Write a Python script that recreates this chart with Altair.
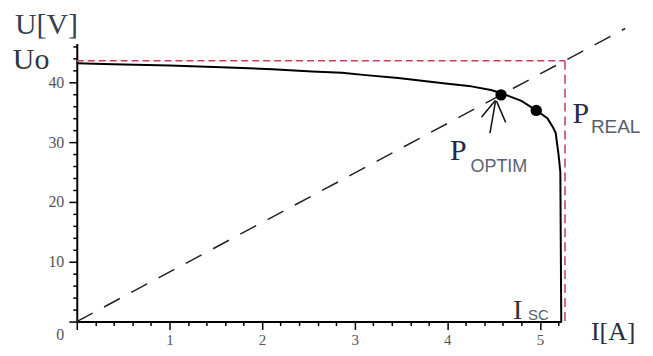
import altair as alt
import pandas as pd

# ---- data ----
curve_i = [0.0, 0.39, 1.0, 1.56, 2.11, 2.54, 2.86, 3.12, 3.47, 3.98, 4.23, 4.47, 4.58,
           4.80, 4.96, 5.08, 5.14, 5.17, 5.20, 5.22, 5.23]
curve_u = [43.2, 43.0, 42.8, 42.5, 42.2, 41.8, 41.6, 41.2, 40.7, 39.8, 39.4, 38.7, 38.2,
           36.9, 35.3, 34.0, 32.5, 31.5, 28.0, 25.0, 0.0]

point_names = ["P_OPTIM", "P_REAL"]
point_i = [4.58, 4.96]
point_u = [37.9, 35.3]

load_i = [0.0, 5.92]
load_u = [0.0, 49.0]

uo_value = 43.6
isc_value = 5.27

arrow_i1 = [4.46, 4.37, 4.63]
arrow_u1 = [31.5, 34.2, 33.3]
arrow_i2 = [4.52, 4.52, 4.53]
arrow_u2 = [36.8, 37.0, 36.9]

x_ticks = [0, 0.2, 0.4, 0.6, 0.8, 1, 1.2, 1.4, 1.6, 1.8, 2, 2.2, 2.4, 2.6, 2.8, 3,
           3.2, 3.4, 3.6, 3.8, 4, 4.2, 4.4, 4.6, 4.8, 5, 5.2]
y_ticks = [0, 2, 4, 6, 8, 10, 12, 14, 16, 18, 20, 22, 24, 26, 28, 30, 32, 34, 36, 38,
           40, 42, 44, 46]

# big serif labels
serif_text = ["U[V]", "Uo", "I[A]", "I", "P", "P"]
serif_i = [-0.667, -0.69, 5.55, 4.71, 4.03, 5.35]
serif_u = [48.0, 42.3, -3.1, 0.35, 27.0, 33.2]
serif_size = [30, 30, 26, 28, 30, 30]
serif_color = ["#33404d", "#2e3440", "#26303d", "#333333", "#1f2a44", "#2b2a4a"]

# subscripts
sub_text = ["SC", "OPTIM", "REAL"]
sub_i = [4.87, 4.25, 5.55]
sub_u = [0.2, 25.0, 31.5]
sub_size = [15, 18, 19]
sub_color = ["#555e6e", "#5a6478", "#555c70"]

zero_label = ["0"]
zero_i = [-0.18]
zero_u = [-2.2]

# ---- build ----
xs = alt.Scale(domain=[0, 5.23], nice=False, zero=False)
ys = alt.Scale(domain=[0, 46.5], nice=False, zero=False)

xaxis = alt.Axis(
    values=x_ticks,
    labelExpr="abs(datum.value - round(datum.value)) < 0.001 && datum.value > 0 ? format(datum.value, 'd') : ''",
    tickSize={"condition": {"test": "abs(datum.value - round(datum.value)) < 0.001", "value": 8}, "value": 4},
    tickWidth=1.5, tickColor="black", domainColor="black", domainWidth=2,
    labelFont="Liberation Serif", labelFontSize=15, labelColor="#555555",
    labelPadding=3, grid=False, title=None, labelOverlap=False, labelFlush=False,
)
yaxis = alt.Axis(
    values=y_ticks,
    labelExpr="datum.value % 10 === 0 && datum.value > 0 ? datum.value : ''",
    tickSize={"condition": {"test": "datum.value % 10 === 0", "value": 8}, "value": 4},
    tickWidth=1.5, tickColor="black", domainColor="black", domainWidth=2,
    labelFont="Liberation Serif", labelFontSize=16, labelColor="#555555",
    labelPadding=5, grid=False, title=None, labelOverlap=False, labelFlush=False,
)

X = alt.X("i:Q", scale=xs, axis=xaxis)
Y = alt.Y("u:Q", scale=ys, axis=yaxis)

curve_df = pd.DataFrame({"i": curve_i, "u": curve_u, "k": list(range(len(curve_i)))})
curve = alt.Chart(curve_df).mark_line(color="black", strokeWidth=2).encode(
    x=X, y=Y, order="k:Q",
)

load_df = pd.DataFrame({"i": load_i, "u": load_u})
load = alt.Chart(load_df).mark_line(color="#222222", strokeWidth=1.5, strokeDash=[18, 13]).encode(
    x=X, y=Y,
)

hred_df = pd.DataFrame({"i": [0.0], "i2": [isc_value], "u": [uo_value]})
hred = alt.Chart(hred_df).mark_rule(color="#d23a52", strokeWidth=1.5, strokeDash=[7, 4]).encode(
    x=X, x2="i2:Q", y=Y,
)

vred_df = pd.DataFrame({"i": [isc_value], "u": [uo_value], "u2": [-0.6]})
vred = alt.Chart(vred_df).mark_rule(color="#cf6b82", strokeWidth=2, strokeDash=[9, 5]).encode(
    x=X, y=Y, y2="u2:Q",
)

pts_df = pd.DataFrame({"name": point_names, "i": point_i, "u": point_u})
pts = alt.Chart(pts_df).mark_circle(color="black", opacity=1, size=130).encode(
    x=X, y=Y,
)

arrow_df = pd.DataFrame({"i": arrow_i1, "u": arrow_u1, "i2": arrow_i2, "u2": arrow_u2})
arrow = alt.Chart(arrow_df).mark_rule(color="#111111", strokeWidth=1.5).encode(
    x=X, x2="i2:Q", y=Y, y2="u2:Q",
)

serif_df = pd.DataFrame({"t": serif_text, "i": serif_i, "u": serif_u,
                         "s": serif_size, "c": serif_color})
serif = alt.Chart(serif_df).mark_text(font="Liberation Serif", align="left",
                                      baseline="alphabetic").encode(
    x=X, y=Y,
    text="t:N",
    size=alt.Size("s:Q", scale=None),
    color=alt.Color("c:N", scale=None),
)

sub_df = pd.DataFrame({"t": sub_text, "i": sub_i, "u": sub_u, "s": sub_size, "c": sub_color})
sub = alt.Chart(sub_df).mark_text(font="Liberation Sans", align="left",
                                  baseline="alphabetic").encode(
    x=X, y=Y,
    text="t:N",
    size=alt.Size("s:Q", scale=None),
    color=alt.Color("c:N", scale=None),
)

zero_df = pd.DataFrame({"t": zero_label, "i": zero_i, "u": zero_u})
zero = alt.Chart(zero_df).mark_text(font="Liberation Serif", fontSize=16, color="#555555",
                                    align="center", baseline="middle").encode(
    x=X, y=Y, text="t:N",
)

chart = alt.layer(curve, load, hred, vred, pts, arrow, serif, sub, zero).properties(
    width=486, height=279,
    autosize=alt.AutoSizeParams(type="none"),
    padding={"left": 69, "top": 35, "right": 84, "bottom": 26},
    background="white",
).configure_view(stroke=None)

chart.save("out.html", embed_options={"renderer": "svg", "actions": False})
